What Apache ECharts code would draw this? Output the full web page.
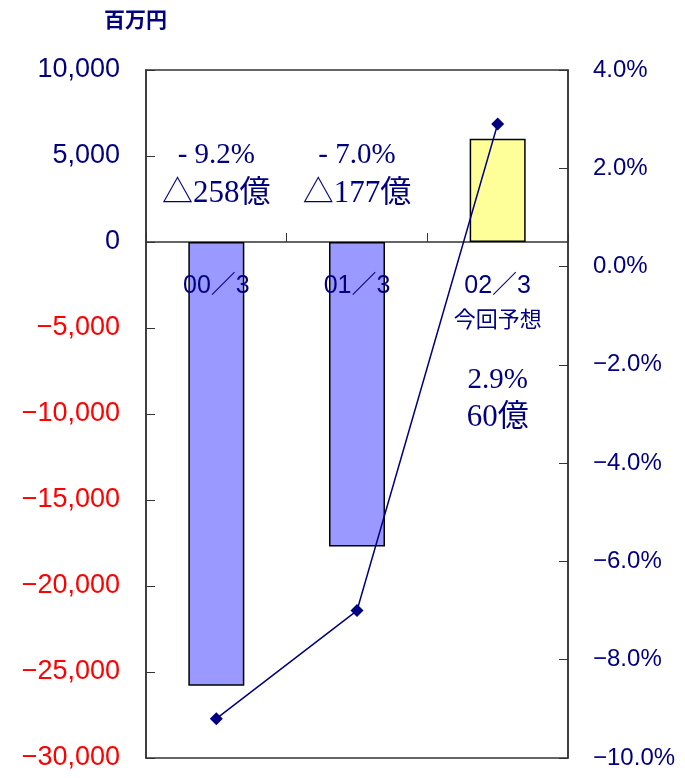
<!DOCTYPE html>
<html>
<head>
<meta charset="utf-8">
<script src="https://cdn.jsdelivr.net/npm/echarts@6/dist/echarts.min.js"></script>
<style>
  html, body { margin: 0; padding: 0; background: #fff; }
  #chart { width: 685px; height: 778px; }
</style>
</head>
<body>
<div id="chart"></div>
<script>
const categories = ['00／3', '01／3', '02／3'];
const subLabels = ['', '', '今回予想'];
const profit = [-25800, -17700, 6000];       // 百万円
const ratio = [-9.2, -7.0, 2.9];             // %
const barColors = ['#9999FF', '#9999FF', '#FFFF99'];
const notesTop = ['- 9.2%', '- 7.0%', ''];
const notesBottom = ['△258億', '△177億', ''];
const forecastNote = ['2.9%', '60億'];

const navy = '#000080';
const serif = '"Liberation Serif", "Noto Sans CJK JP", serif';
const sans = '"Liberation Sans", "Noto Sans CJK JP", sans-serif';

const chart = echarts.init(document.getElementById('chart'));

const fmtNum = (v) => {
  const s = Math.abs(v).toLocaleString('en-US');
  return v < 0 ? '\u2212' + s : s;
};

chart.setOption({
  animation: false,
  grid: {
    left: 146, right: 117, top: 70, bottom: 20,
    outerBoundsMode: 'none',
    show: true, borderColor: '#333', borderWidth: 1.5
  },
  title: {
    text: '百万円', left: 99, top: 6,
    textStyle: { color: navy, fontSize: 21, fontWeight: 'bold', fontFamily: sans }
  },
  xAxis: {
    type: 'category',
    data: categories,
    axisLine: { onZero: true, lineStyle: { color: '#333', width: 1.5 } },
    axisTick: { show: true, inside: true, length: 9, lineStyle: { color: '#333' } },
    axisLabel: { show: false }
  },
  yAxis: [
    {
      type: 'value', min: -30000, max: 10000, interval: 5000,
      splitLine: { show: false },
      axisLine: { show: true, lineStyle: { color: '#333', width: 1.5 } },
      axisTick: { show: true, inside: true, length: 9, lineStyle: { color: '#333' } },
      axisLabel: {
        margin: 26, fontSize: 27, fontFamily: sans,
        color: (v) => (Number(v) < 0 ? '#FF0000' : navy),
        formatter: fmtNum
      }
    },
    {
      type: 'value', min: -10, max: 4, interval: 2, position: 'right',
      splitLine: { show: false },
      axisLine: { show: true, lineStyle: { color: '#333', width: 1.5 } },
      axisTick: { show: true, inside: true, length: 9, lineStyle: { color: '#333' } },
      axisLabel: {
        margin: 25, fontSize: 24, fontFamily: sans, color: navy,
        padding: [10, 0, 0, 0],
        formatter: (v) => (v < 0 ? '\u2212' : '') + Math.abs(v).toFixed(1) + '%'
      }
    }
  ],
  series: [
    {
      type: 'bar',
      barWidth: 56,
      data: profit.map((v, i) => ({
        value: v,
        itemStyle: { color: barColors[i], borderColor: '#000', borderWidth: 1.5 }
      }))
    },
    {
      type: 'line',
      yAxisIndex: 1,
      data: ratio,
      symbol: 'diamond',
      symbolSize: 13,
      lineStyle: { color: navy, width: 1.5 },
      itemStyle: { color: navy }
    }
  ]
});

// カテゴリ名と注記テキスト（カテゴリ中心・ゼロ線を基準に配置）
const y0 = chart.convertToPixel({ yAxisIndex: 0 }, 0);
const graphics = [];
const txt = (x, y, text, font) => graphics.push({
  type: 'text', x: x, y: y, z: 10,
  style: { text: text, fill: navy, font: font, align: 'center', verticalAlign: 'middle' }
});
categories.forEach((c, i) => {
  const x = chart.convertToPixel({ xAxisIndex: 0 }, c);
  txt(x, y0 + 44, c, '25px ' + sans);
  if (subLabels[i]) txt(x, y0 + 79, subLabels[i], '22px ' + sans);
  if (notesTop[i]) {
    txt(x, 155, notesTop[i], '29px ' + serif);
    txt(x, 194, notesBottom[i], '31px ' + serif);
  }
});
const x2 = chart.convertToPixel({ xAxisIndex: 0 }, categories[2]);
txt(x2, 380, forecastNote[0], '29px ' + serif);
txt(x2, 418, forecastNote[1], '31px ' + serif);
chart.setOption({ graphic: graphics });
</script>
</body>
</html>
